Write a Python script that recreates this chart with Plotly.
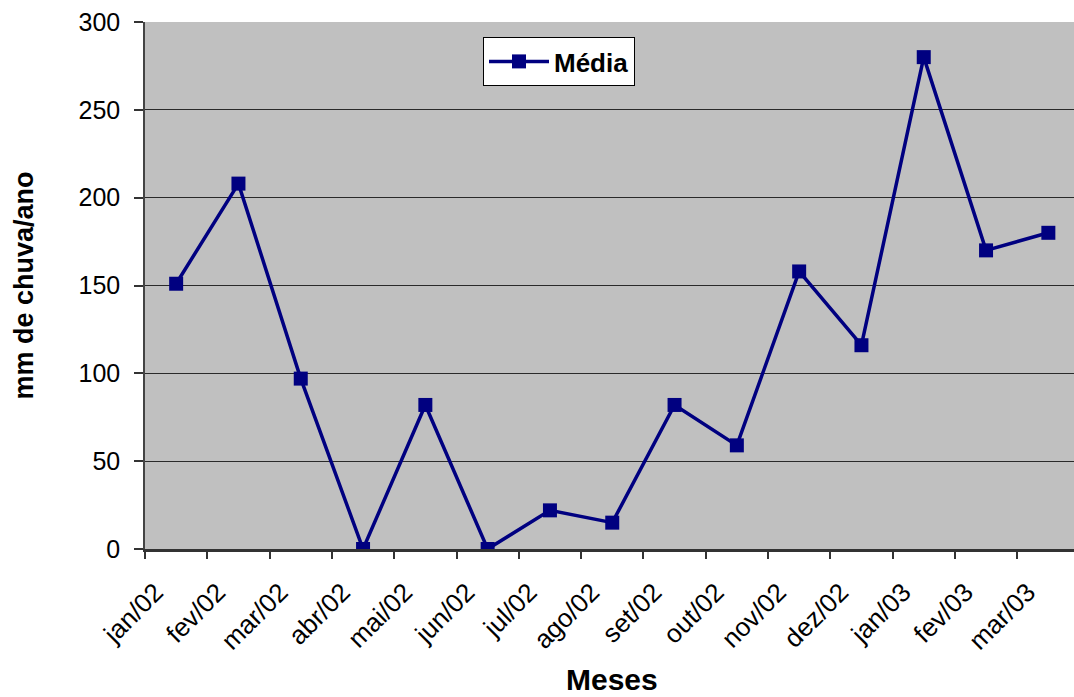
import plotly.graph_objects as go

meses = ["jan/02", "fev/02", "mar/02", "abr/02", "mai/02", "jun/02", "jul/02",
         "ago/02", "set/02", "out/02", "nov/02", "dez/02", "jan/03", "fev/03", "mar/03"]
media = [151, 208, 97, 0, 82, 0, 22, 15, 82, 59, 158, 116, 280, 170, 180]
y_ticks = [0, 50, 100, 150, 200, 250, 300]

W, H = 1074, 697
L, T, B, R = 145, 22, 148, 0
n = len(meses)
cat_w = 62.3
plot_w = W - L - R
plot_h = H - T - B
x_max = -0.5 + plot_w / cat_w

xs = list(range(n))
FONT = "Liberation Sans, Arial, sans-serif"

fig = go.Figure()
fig.add_trace(go.Scatter(
    x=xs, y=media, mode="lines+markers", name="<b>Média</b>",
    line=dict(color="#000080", width=3.5),
    marker=dict(symbol="square", size=14, color="#000080"),
    xaxis="x", yaxis="y",
))

# invisible helper trace so xaxis2 renders its ticks
fig.add_trace(go.Scatter(x=[xs[0]], y=[media[0]], xaxis="x2", yaxis="y",
                         mode="markers", marker=dict(opacity=0),
                         showlegend=False, hoverinfo="skip"))

fig.update_layout(
    width=W, height=H,
    margin=dict(l=L, r=R, t=T, b=B),
    paper_bgcolor="white",
    plot_bgcolor="#C0C0C0",
    font=dict(family=FONT, size=24, color="black"),
    showlegend=True,
    legend=dict(
        x=(483 - L) / plot_w, y=(H - B - 37) / plot_h,
        xanchor="left", yanchor="top",
        bgcolor="white", bordercolor="black", borderwidth=1,
        font=dict(family=FONT, size=26, color="black"),
        itemwidth=60,
    ),
    xaxis=dict(
        range=[-0.5, x_max],
        tickmode="array",
        tickvals=[i - 0.33 for i in xs],
        ticktext=meses,
        tickangle=-45,
        ticks="",
        ticklabelstandoff=15,
        showgrid=False,
        zeroline=False,
        showline=True, linecolor="#333333", linewidth=2.5,
        tickfont=dict(family=FONT, size=26, color="black"),
    ),
    xaxis2=dict(
        overlaying="x",
        matches="x",
        side="bottom",
        tickmode="array",
        tickvals=[i - 0.5 for i in range(n + 1)],
        ticks="outside", ticklen=9, tickwidth=1.5, tickcolor="#333333",
        showticklabels=False,
        showgrid=False, zeroline=False, showline=False,
    ),
    yaxis=dict(
        range=[0, 300],
        tickmode="array",
        tickvals=y_ticks,
        ticks="outside", ticklen=9, tickwidth=1.5, tickcolor="#333333",
        ticklabelstandoff=9,
        showgrid=True, gridcolor="#2a2a2a", gridwidth=1,
        zeroline=False,
        showline=True, linecolor="#444444", linewidth=1.5,
        tickfont=dict(family=FONT, size=25, color="black"),
    ),
)

fig.add_annotation(text="<b>mm de chuva/ano</b>", xref="paper", yref="paper",
                   x=-(L - 23) / plot_w, y=0.5, textangle=-90, showarrow=False,
                   font=dict(family=FONT, size=27, color="black"),
                   xanchor="center", yanchor="middle")
fig.add_annotation(text="<b>Meses</b>", xref="paper", yref="paper",
                   x=(612 - L) / plot_w, y=-(679 - (H - B)) / plot_h, showarrow=False,
                   font=dict(family=FONT, size=30, color="black"),
                   xanchor="center", yanchor="middle")

fig.write_html("out.html")
